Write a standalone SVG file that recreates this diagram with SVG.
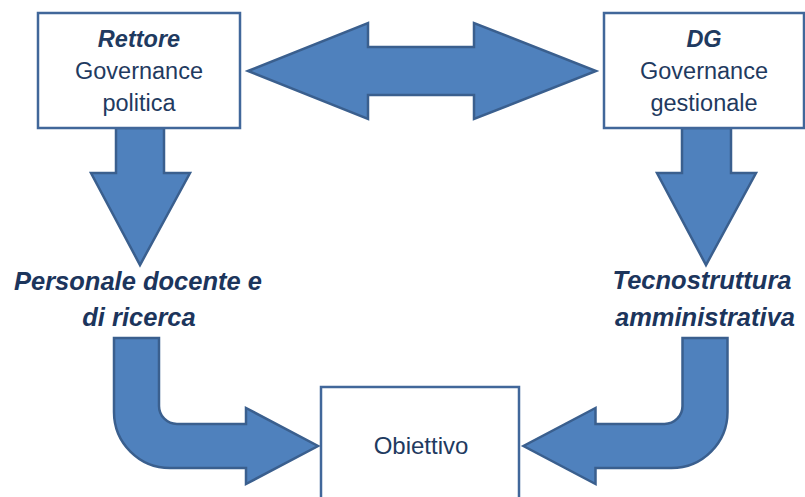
<svg xmlns="http://www.w3.org/2000/svg" width="805" height="497" viewBox="0 0 805 497">
<style>
.arr{fill:#4F81BD;stroke:#3A5F8E;stroke-width:2.5;stroke-linejoin:miter}
.box{fill:#FFFFFF;stroke:#41679A;stroke-width:2.5}
.t{font-family:"Liberation Sans",Arial,sans-serif;fill:#1F3A60;text-anchor:middle}
.bt{font-size:23.5px}
.bi{font-weight:bold;font-style:italic}
.lbl{font-family:"Liberation Sans",Arial,sans-serif;fill:#1C355C;text-anchor:middle;font-weight:bold;font-style:italic;font-size:25.5px}
</style>
<rect width="805" height="497" fill="#FFFFFF"/>
<g id="connectors">
<path class="arr" d="M248,71 L368,23 V47 H474 V23 L596,71 L474,119 V95 H368 V119 Z"/>
<path class="arr" d="M116,128 H164 V173 H190 L140,265 L91,173 H116 Z"/>
<path class="arr" d="M682,128 H731 V173 H756 L706,265 L657,173 H682 Z"/>
<path class="arr" d="M114,338 H159 V406 A18,18 0 0 0 177,424 H246 V408 L318,446 L246,484 V468 H170 A56,56 0 0 1 114,412 Z"/>
<path class="arr" d="M727.5,338 H682.5 V406 A18,18 0 0 1 664.5,424 H595.5 V408 L523.5,446 L595.5,484 V468 H671.5 A56,56 0 0 0 727.5,412 Z"/>
</g>
<g id="rettore">
<rect class="box" x="38" y="13" width="202" height="115"/>
<text class="t bt bi" x="139" y="47">Rettore</text>
<text class="t bt" x="139" y="79">Governance</text>
<text class="t bt" x="139" y="111">politica</text>
</g>
<g id="dg">
<rect class="box" x="604" y="13" width="200" height="115"/>
<text class="t bt bi" x="704" y="47">DG</text>
<text class="t bt" x="704" y="79">Governance</text>
<text class="t bt" x="704" y="111">gestionale</text>
</g>
<g id="personale">
<text class="lbl" x="138" y="290">Personale docente e</text>
<text class="lbl" x="139" y="326">di ricerca</text>
</g>
<g id="tecnostruttura">
<text class="lbl" x="702" y="289">Tecnostruttura</text>
<text class="lbl" x="705" y="326">amministrativa</text>
</g>
<g id="obiettivo">
<rect class="box" x="321" y="387" width="198" height="120"/>
<text class="t" x="421" y="454" font-size="24">Obiettivo</text>
</g>
</svg>
